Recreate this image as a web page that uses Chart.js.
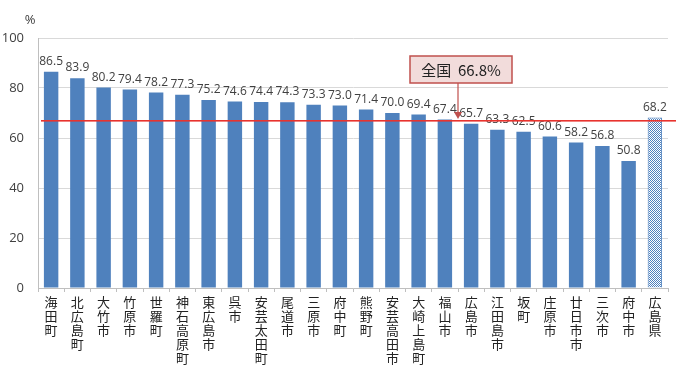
<!DOCTYPE html>
<html>
<head>
<meta charset="utf-8">
<script src="https://cdn.jsdelivr.net/npm/chart.js@4"></script>
<style>
  html, body { margin: 0; padding: 0; background: #fff; }
  #wrap { width: 700px; height: 368px; }
</style>
</head>
<body>
<div id="wrap"><canvas id="mainChart" width="700" height="368"></canvas></div>
<script>
const towns = ["海田町", "北広島町", "大竹市", "竹原市", "世羅町", "神石高原町", "東広島市", "呉市",
  "安芸太田町", "尾道市", "三原市", "府中町", "熊野町", "安芸高田市", "大崎上島町", "福山市",
  "広島市", "江田島市", "坂町", "庄原市", "廿日市市", "三次市", "府中市", "広島県"];
const rates = [86.5, 83.9, 80.2, 79.4, 78.2, 77.3, 75.2, 74.6, 74.4, 74.3, 73.3, 73.0,
  71.4, 70.0, 69.4, 67.4, 65.7, 63.3, 62.5, 60.6, 58.2, 56.8, 50.8, 68.2];
const yTicks = [0, 20, 40, 60, 80, 100];
const nationalRate = 66.8;
const nationalText = "全国  66.8%";

const font = '"Noto Sans CJK JP", "Noto Sans", sans-serif';
const numFont = '"Open Sans", "Noto Sans", sans-serif';
const blue = '#4f81bd';

// dotted fill for the prefecture bar
function makePattern() {
    const c = document.createElement('canvas');
    c.width = 2; c.height = 2;
    const g = c.getContext('2d');
    g.fillStyle = '#ffffff';
    g.fillRect(0, 0, 2, 2);
    g.fillStyle = blue;
    g.fillRect(0, 0, 1, 1);
    g.fillRect(1, 1, 1, 1);
    return g.createPattern(c, 'repeat');
}
const ctx = document.getElementById('mainChart').getContext('2d');
const pattern = makePattern();
const lastIdx = towns.length - 1;

const overlay = {
    id: 'overlay',
    afterDatasetsDraw(chart) {
        const c = chart.ctx;
        const x = chart.scales.x, y = chart.scales.y;
        const area = chart.chartArea;
        const meta = chart.getDatasetMeta(0);
        c.save();
        // value labels
        c.font = '12px ' + numFont;
        c.fillStyle = '#404040';
        c.textAlign = 'center';
        c.textBaseline = 'alphabetic';
        meta.data.forEach((bar, i) => {
            c.fillText(rates[i].toFixed(1), bar.x, bar.y - 7);
        });
        // national average line
        const ly = Math.round(y.getPixelForValue(nationalRate));
        c.fillStyle = '#e8332e';
        c.fillRect(area.left + 3, ly - 1, area.right + 8 - area.left - 3, 1.6);
        // % unit
        c.font = '13px ' + numFont;
        c.fillStyle = '#404040';
        c.textAlign = 'center';
        c.textBaseline = 'middle';
        c.fillText('%', 30, 20);
        // callout box
        const ax = Math.round(x.getPixelForValue(15.5));
        const bx = 410, by = 56, bw = 102, bh = 27;
        c.fillStyle = '#f2dcdb';
        c.strokeStyle = '#c0504d';
        c.lineWidth = 1.5;
        c.fillRect(bx, by, bw, bh);
        c.strokeRect(bx, by, bw, bh);
        c.fillStyle = '#222';
        c.font = '15px ' + font;
        c.fillText(nationalText, bx + bw / 2, by + bh / 2 + 1);
        // arrow
        c.fillStyle = '#c0504d';
        c.fillRect(ax - 0.6, by + bh, 1.2, ly - 9 - by - bh);
        c.beginPath();
        c.moveTo(ax - 4, ly - 9);
        c.lineTo(ax + 4, ly - 9);
        c.lineTo(ax, ly - 2);
        c.closePath();
        c.fill();
        c.restore();
    }
};

new Chart(ctx, {
    type: 'bar',
    data: {
        labels: towns.map(t => t.split('')),
        datasets: [{
            data: rates,
            backgroundColor: rates.map((v, i) => i === lastIdx ? pattern : blue),
            borderColor: rates.map((v, i) => i === lastIdx ? blue : 'rgba(0,0,0,0)'),
            borderWidth: rates.map((v, i) => i === lastIdx ? 1 : 0),
            barPercentage: 0.55,
            categoryPercentage: 1.0
        }]
    },
    options: {
        responsive: false,
        animation: false,
        layout: { padding: { top: 38, right: 32, left: 0, bottom: 0 } },
        plugins: { legend: { display: false }, tooltip: { enabled: false } },
        scales: {
            x: {
                grid: { offset: true, drawOnChartArea: false, drawTicks: true, tickLength: 4, color: '#bfbfbf' },
                border: { color: '#bfbfbf' },
                ticks: {
                    color: '#222',
                    font: { family: font, size: 13, lineHeight: 1.08 },
                    maxRotation: 0, minRotation: 0, autoSkip: false, padding: 3
                },
                afterFit(scale) { scale.height = 80; }
            },
            y: {
                min: 0, max: 100,
                afterBuildTicks(scale) { scale.ticks = yTicks.map(v => ({ value: v })); },
                grid: { color: '#d9d9d9', drawTicks: false },
                border: { color: '#bfbfbf' },
                ticks: { color: '#404040', font: { family: numFont, size: 13 }, padding: 14 },
                afterFit(scale) { scale.width = 38; }
            }
        }
    },
    plugins: [overlay]
});
</script>
</body>
</html>
